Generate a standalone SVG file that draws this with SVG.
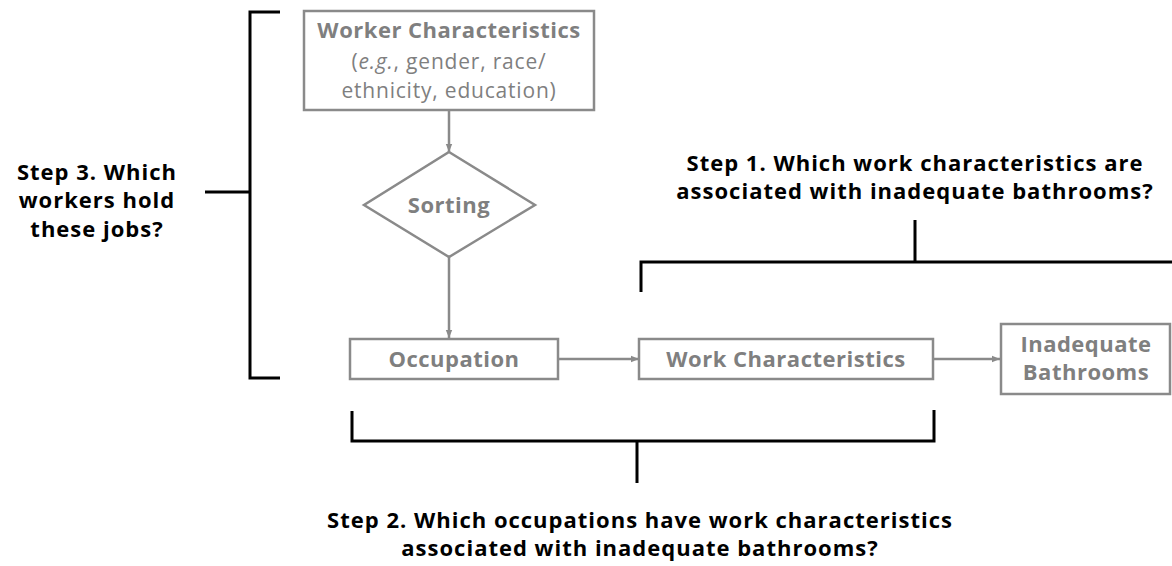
<svg xmlns="http://www.w3.org/2000/svg" width="1172" height="566" viewBox="0 0 1172 566">
<defs>
<marker id="ah" viewBox="0 0 10 10" refX="10" refY="5" markerWidth="8" markerHeight="8" orient="auto" markerUnits="userSpaceOnUse">
<path d="M0,1 L10,5 L0,9 z" fill="#8a8a8a"/>
</marker>
<style>
.box{fill:#fff;stroke:#8a8a8a;stroke-width:2.5}
.gt{font-family:"Open Sans","Noto Sans",sans-serif;font-size:22px;letter-spacing:0.5px;fill:#7f7f7f;text-anchor:middle}
.sm{font-size:21px;letter-spacing:0.8px}
.b{font-weight:bold}
.bt{font-family:"Open Sans","Noto Sans",sans-serif;font-size:22px;letter-spacing:1px;font-weight:bold;fill:#000;text-anchor:middle}
.arr{stroke:#8a8a8a;stroke-width:2.5;fill:none;marker-end:url(#ah)}
.br{stroke:#000;stroke-width:3;fill:none}
</style>
</defs>
<rect width="1172" height="566" fill="#fff"/>
<g id="connectors">
<line class="arr" x1="449" y1="110" x2="449" y2="152"/>
<line class="arr" x1="449" y1="257" x2="449" y2="338"/>
<line class="arr" x1="558" y1="359" x2="639" y2="359"/>
<line class="arr" x1="933" y1="359" x2="1000" y2="359"/>
</g>
<g id="brackets">
<path class="br" d="M280,12 H250 V378 H280 M205,192 H250"/>
<path class="br" d="M641,292 V262 H1172 M915,220 V262"/>
<path class="br" d="M352,411 V441 H934 V410 M637,441 V483"/>
</g>
<g id="worker">
<rect class="box" x="304" y="11" width="290" height="99"/>
<text class="gt b" x="449" y="38">Worker Characteristics</text>
<text class="gt sm" x="449" y="69">(<tspan font-style="italic">e.g.</tspan>, gender, race/</text>
<text class="gt sm" x="449" y="98">ethnicity, education)</text>
</g>
<g id="sorting">
<polygon points="449,152 535,205 449,257 364,205" fill="#fff" stroke="#8a8a8a" stroke-width="2.5"/>
<text class="gt b" x="449" y="213">Sorting</text>
</g>
<g id="occupation">
<rect class="box" x="350" y="339" width="208" height="40"/>
<text class="gt b" x="454" y="367">Occupation</text>
</g>
<g id="workchar">
<rect class="box" x="639" y="339" width="294" height="40"/>
<text class="gt b" x="786" y="367">Work Characteristics</text>
</g>
<g id="bathrooms">
<rect class="box" x="1001" y="324" width="169" height="70"/>
<text class="gt b" x="1086" y="352">Inadequate</text>
<text class="gt b" x="1086" y="380">Bathrooms</text>
</g>
<g id="step3">
<text class="bt" x="97" y="180">Step 3. Which</text>
<text class="bt" x="97" y="208">workers hold</text>
<text class="bt" x="97" y="237">these jobs?</text>
</g>
<g id="step1">
<text class="bt" x="915" y="171">Step 1. Which work characteristics are</text>
<text class="bt" x="915" y="199">associated with inadequate bathrooms?</text>
</g>
<g id="step2">
<text class="bt" x="640" y="528">Step 2. Which occupations have work characteristics</text>
<text class="bt" x="640" y="556">associated with inadequate bathrooms?</text>
</g>
</svg>
